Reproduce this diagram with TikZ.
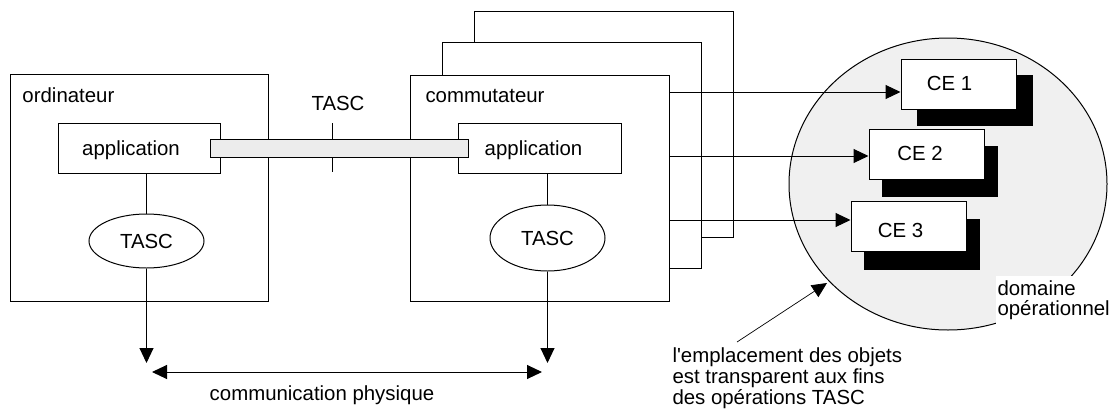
\documentclass[tikz,border=0pt]{standalone}
\usepackage{fontspec}
\newfontfamily\labelfont{Liberation Sans}
\usetikzlibrary{arrows.meta,shapes.geometric}
\begin{document}
\begin{tikzpicture}[x=1pt,y=-1pt,line width=1pt,
  every node/.style={font=\labelfont\fontsize{20.4}{20}\selectfont,inner sep=0pt},
  panel/.style={draw,fill=white,minimum width=259,minimum height=226},
  appbox/.style={draw,fill=white,minimum height=50},
  oval/.style={draw,fill=white,ellipse,minimum width=115},
  shade/.style={fill=black,minimum width=116,minimum height=51},
  cebox/.style={draw,fill=white,minimum width=115,minimum height=50},
  tip/.style={-{Triangle[length=15pt,width=14pt]}},
  twotip/.style={{Triangle[length=15pt,width=14pt]}-{Triangle[length=15pt,width=14pt]}}]
\useasboundingbox (0,0) rectangle (1109,410);

% operational domain
\node[draw,fill=gray!12,ellipse,minimum width=318,minimum height=292] (dom) at (948,184) {};

% computer
\node[draw,fill=white,minimum width=258,minimum height=227] (ord) at (139,187.5) {};
\node[anchor=base west] (ordlbl) at (22,102) {ordinateur};
\node[appbox,minimum width=162] (app1) at (139,148) {};
\node[anchor=base] (app1lbl) at (131,155) {application};
\node[oval,minimum height=54] (tasc1) at (146.5,241) {TASC};

% switch: stacked panels
\node[panel] (b3) at (603.5,124) {};
\node[panel] (b2) at (571.5,155) {};
\node[panel] (com) at (539.5,188) {};
\node[anchor=base west] (comlbl) at (425,102) {commutateur};
\node[appbox,minimum width=163] (app2) at (539.5,148) {};
\node[anchor=base] (app2lbl) at (533.5,155) {application};
\node[oval,minimum height=66] (tasc2) at (547.5,238) {TASC};

% TASC association between the two applications
\node[anchor=base] (tasclbl) at (338,110) {TASC};
\coordinate (tickT) at (332,123);
\coordinate (tickB) at (332,172);
\draw (tickT) -- (tickB);
\node[draw,fill=gray!15,minimum width=258,minimum height=18] (bar) at (339,148) {};

% links to the physical layer
\coordinate (phL) at (146.5,363);
\coordinate (phR) at (547.5,363);
\draw (app1.south -| tasc1.north) -- (tasc1.north);
\draw (app2.south -| tasc2.north) -- (tasc2.north);
\draw[tip] (tasc1.south) -- (phL);
\draw[tip] (tasc2.south) -- (phR);
\coordinate (cL) at (152,372);
\coordinate (cR) at (542,372);
\draw[twotip] (cL) -- (cR);
\node[anchor=base] (phys) at (322,400) {communication physique};

% managed objects
\node[shade] (s1) at (975,100) {};
\node[cebox] (ce1) at (958.5,84) {};
\node[anchor=base] (ce1lbl) at (949.5,90) {CE 1};
\node[shade] (s2) at (940,171) {};
\node[cebox] (ce2) at (926.5,154) {};
\node[anchor=base] (ce2lbl) at (920,160) {CE 2};
\node[shade] (s3) at (921.5,244.5) {};
\node[cebox] (ce3) at (908.5,226) {};
\node[anchor=base] (ce3lbl) at (900.5,237) {CE 3};

\coordinate (a1) at ([yshift=-8pt]ce1.west);
\coordinate (a2) at ([yshift=-2pt]ce2.west);
\coordinate (a3) at ([yshift=6pt]ce3.west);
\draw[tip] (com.east |- a1) -- (a1);
\draw[tip] (com.east |- a2) -- (a2);
\draw[tip] (com.east |- a3) -- (a3);

% domain label
\node[fill=white,anchor=north west,minimum width=114,minimum height=57] (dombg) at (995,275) {};
\node[anchor=base west] (dom1) at (997,295) {domaine};
\node[anchor=base west] (dom2) at (997,315) {opérationnel};

% note
\node[anchor=base west] (note1) at (672,362.5) {l'emplacement des objets};
\node[anchor=base west] (note2) at (672,383.5) {est transparent aux fins};
\node[anchor=base west] (note3) at (672,404) {des opérations TASC};
\coordinate (nt) at (737,342);
\coordinate (nh) at (827,283);
\draw[tip,line width=0.7pt] (nt) -- (nh);
\end{tikzpicture}
\end{document}
